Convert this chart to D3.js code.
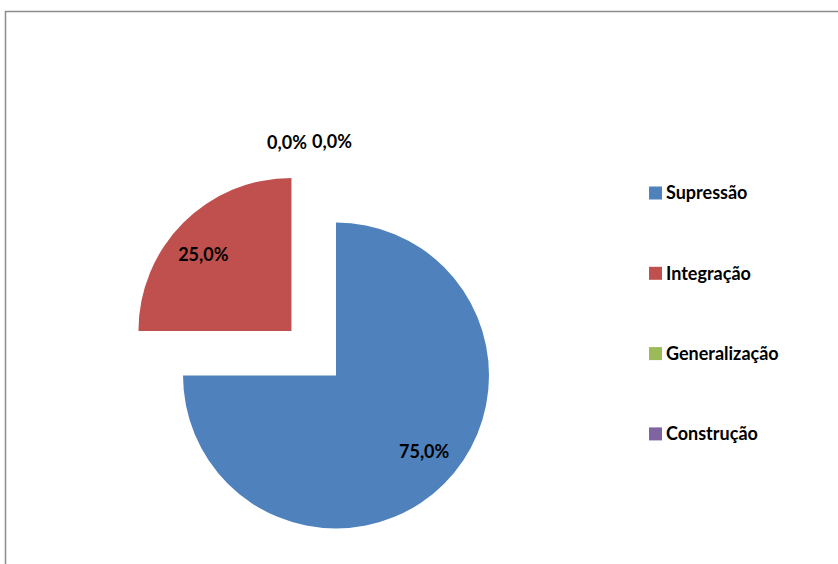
<!DOCTYPE html>
<html>
<head>
<meta charset="utf-8">
<script src="https://cdn.jsdelivr.net/npm/d3@7"></script>
<style>
  html, body { margin: 0; padding: 0; background: #fff; }
  svg { display: block; }
  text { font-family: Lato, "Open Sans", "Liberation Sans", sans-serif; font-weight: bold; fill: #000; }
</style>
</head>
<body>
<svg id="chart" width="838" height="564"></svg>
<script>
// Categories and shares (percent)
const categories = ["Supressão", "Integração", "Generalização", "Construção"];
const shares = [75.0, 25.0, 0.0, 0.0];
const colors = ["#4F81BD", "#C0504D", "#9BBB59", "#8064A2"];
// Distance each slice is pulled out from the centre
const explode = [0, 63, 0, 0];

const W = 838, H = 564;
const FS = "18px";
const svg = d3.select("#chart");

// Chart frame
svg.append("path")
  .attr("d", `M5.5,${H} V11.5 H${W}`)
  .attr("fill", "none")
  .attr("stroke", "#8c8c8c")
  .attr("stroke-width", 1.5);

const cx = 336, cy = 375.5, R = 153;
const g = svg.append("g").attr("transform", `translate(${cx},${cy})`);

const data = categories.map((c, i) => ({ name: c, value: shares[i], color: colors[i], explode: explode[i] }));
const pie = d3.pie().sort(null).value(d => d.value);
const arcs = pie(data);
const arc = d3.arc().innerRadius(0).outerRadius(R);

function shift(a) {
  const mid = (a.startAngle + a.endAngle) / 2;
  return [Math.sin(mid) * a.data.explode, -Math.cos(mid) * a.data.explode];
}

g.selectAll("path.slice")
  .data(arcs.filter(a => a.value > 0))
  .join("path")
  .attr("class", "slice")
  .attr("d", arc)
  .attr("fill", d => d.data.color)
  .attr("transform", d => `translate(${shift(d)})`);

const fmt = v => d3.format(".1f")(v).replace(".", ",") + "%";

// Labels for non-empty slices sit inside the slice, a little before its mid-angle
const labelR = R * 0.76, labelTurn = -0.075;
g.selectAll("text.inner")
  .data(arcs.filter(a => a.value > 0))
  .join("text")
  .attr("class", "inner")
  .attr("transform", d => {
    const [sx, sy] = shift(d);
    const mid = (d.startAngle + d.endAngle) / 2 + labelTurn;
    return `translate(${Math.sin(mid) * labelR + sx},${-Math.cos(mid) * labelR + sy})`;
  })
  .attr("text-anchor", "middle")
  .attr("dy", "0.35em")
  .style("font-size", FS)
  .text(d => fmt(d.value));

// Labels for empty slices are set outside the rim, side by side ending at the top
const empty = arcs.filter(a => a.value === 0);
const outR = R + 81;
g.selectAll("text.outer")
  .data(empty)
  .join("text")
  .attr("class", "outer")
  .attr("transform", (d, i) => {
    const ang = d.startAngle;
    const k = empty.length - 1 - i;
    const x = Math.sin(ang) * outR - k * 45 - 4;
    const y = -Math.cos(ang) * outR + k * 1.5;
    return `translate(${x},${y})`;
  })
  .attr("text-anchor", "middle")
  .attr("dy", "0.35em")
  .style("font-size", FS)
  .text(d => fmt(d.value));

// Legend
const legend = svg.append("g").attr("transform", "translate(649,193)");
const item = legend.selectAll("g")
  .data(data)
  .join("g")
  .attr("transform", (d, i) => `translate(0,${i * 80.3})`);
item.append("rect")
  .attr("x", 0).attr("y", -6.5)
  .attr("width", 13).attr("height", 13)
  .attr("fill", d => d.color);
item.append("text")
  .attr("x", 17)
  .attr("dy", "0.35em")
  .style("font-size", FS)
  .text(d => d.name);
</script>
</body>
</html>
